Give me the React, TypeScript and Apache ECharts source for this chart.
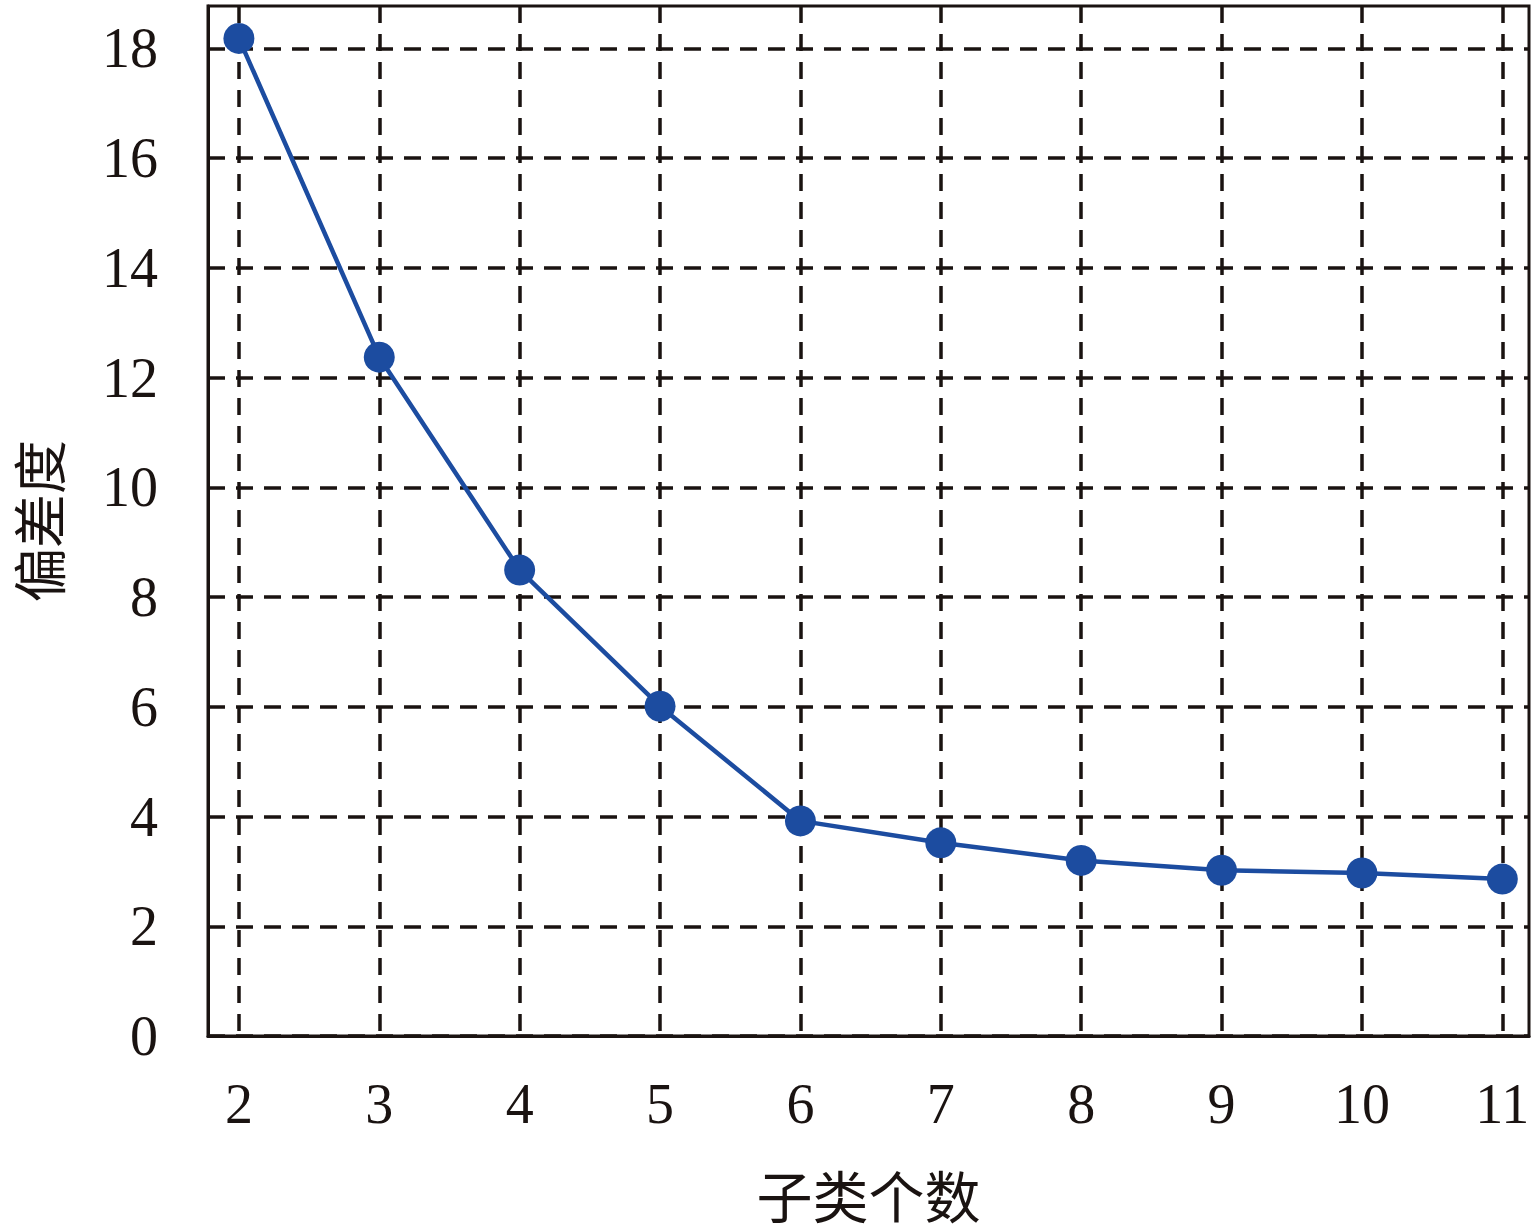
import React, { useEffect, useRef } from "react";
import * as echarts from "echarts";

const xValues = [2, 3, 4, 5, 6, 7, 8, 9, 10, 11];
const deviation = [18.18, 12.37, 8.49, 6.01, 3.92, 3.52, 3.2, 3.02, 2.97, 2.86];
const yTicks = [0, 2, 4, 6, 8, 10, 12, 14, 16, 18];
const xName = "子类个数";
const yName = "偏差度";

const serif = "'Liberation Serif', 'DejaVu Serif', serif";
const cjk = "'Noto Sans CJK SC', sans-serif";
const ink = "#1a1311";
const dashed = { color: ink, width: 3.5, type: [17, 11] as any };

export default function App() {
  const ref = useRef<HTMLDivElement>(null);
  useEffect(() => {
    if (!ref.current) return;
    const chart = echarts.init(ref.current, undefined, { renderer: "svg" });
    chart.setOption({
      animation: false,
      backgroundColor: "#ffffff",
      grid: {
        left: 208,
        top: 6,
        right: 6,
        bottom: 192,
        containLabel: false,
        outerBoundsMode: "none",
        show: true,
        borderColor: ink,
        borderWidth: 3,
        backgroundColor: "transparent",
      },
      xAxis: {
        type: "value",
        min: 1.78,
        max: 11.19,
        name: xName,
        nameLocation: "middle",
        nameGap: 129,
        nameTextStyle: { fontFamily: cjk, fontSize: 56, color: ink },
        axisLine: { show: true, lineStyle: { color: ink, width: 3 } },
        axisTick: { show: false, customValues: xValues },
        axisLabel: {
          customValues: xValues,
          fontFamily: serif,
          fontSize: 56,
          color: ink,
          margin: 40,
        },
        splitLine: { show: true, lineStyle: dashed },
      },
      yAxis: {
        type: "value",
        min: 0,
        max: 18.77,
        name: yName,
        nameLocation: "middle",
        nameGap: 144,
        nameRotate: 90,
        nameTextStyle: { fontFamily: cjk, fontSize: 54, color: ink },
        axisLine: { show: true, lineStyle: { color: ink, width: 3 } },
        axisTick: { show: false, customValues: yTicks },
        axisLabel: {
          customValues: yTicks,
          fontFamily: serif,
          fontSize: 56,
          color: ink,
          margin: 50,
        },
        splitLine: { show: true, lineStyle: dashed },
      },
      series: [
        {
          type: "line",
          data: xValues.map((x, i) => [x, deviation[i]]),
          symbol: "circle",
          symbolSize: 31,
          lineStyle: { color: "#1c4ca0", width: 4.5 },
          itemStyle: { color: "#1c4ca0" },
          z: 5,
        },
      ],
    });
    return () => chart.dispose();
  }, []);
  return (
    <div
      ref={ref}
      style={{ position: "fixed", left: 0, top: 0, width: 1535, height: 1228 }}
    />
  );
}
